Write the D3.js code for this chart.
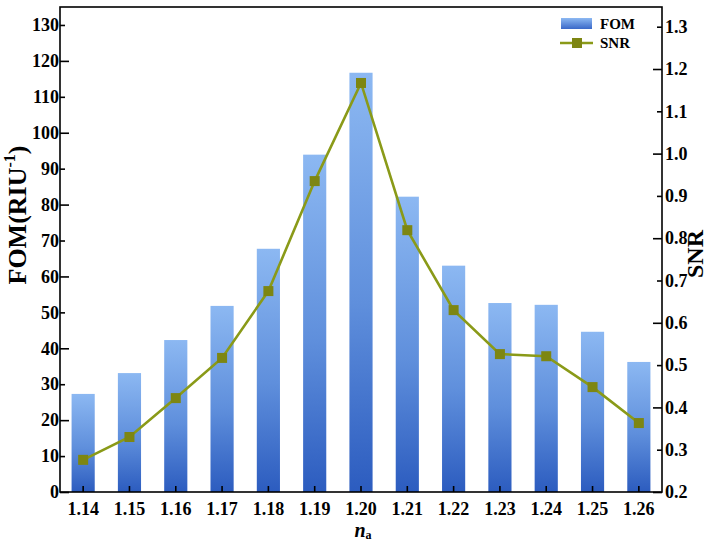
<!DOCTYPE html>
<html>
<head>
<meta charset="utf-8">
<script src="https://cdn.jsdelivr.net/npm/d3@7"></script>
<style>
  html, body { margin: 0; padding: 0; background: #fff; }
  svg { display: block; font-family: "Liberation Serif", "Times New Roman", serif; }
</style>
</head>
<body>
<svg id="chart" width="712" height="542"></svg>
<script>
// Refractive index of the analyte
const categories = ["1.14","1.15","1.16","1.17","1.18","1.19","1.20","1.21","1.22","1.23","1.24","1.25","1.26"];
// Figure of merit (RIU^-1)
const fomValues = [27.3, 33.1, 42.3, 51.8, 67.7, 93.9, 116.7, 82.2, 63.0, 52.6, 52.1, 44.6, 36.2];
// Signal-to-noise ratio
const snrValues = [0.276, 0.330, 0.422, 0.517, 0.675, 0.935, 1.167, 0.819, 0.630, 0.526, 0.521, 0.448, 0.363];
const fomTicks = [0,10,20,30,40,50,60,70,80,90,100,110,120,130];
const snrTicks = [0.2,0.3,0.4,0.5,0.6,0.7,0.8,0.9,1.0,1.1,1.2,1.3];

const svg = d3.select("#chart");
const plotL = 60, plotR = 662, plotT = 7, plotB = 492;

const x = d3.scaleBand().domain(categories).range([plotL, plotR]).paddingInner(0.5).paddingOuter(0.25);
const yL = d3.scaleLinear().domain([0, 135]).range([plotB, plotT]);
const yR = d3.scaleLinear().domain([0.2, 1.3466]).range([plotB, plotT]);

// vertical gradient for the bars
const defs = svg.append("defs");
const grad = defs.append("linearGradient").attr("id", "barGrad")
  .attr("x1", 0).attr("y1", 0).attr("x2", 0).attr("y2", 1);
grad.append("stop").attr("offset", "0%").attr("stop-color", "#8cb8f2");
grad.append("stop").attr("offset", "55%").attr("stop-color", "#5f8fdc");
grad.append("stop").attr("offset", "100%").attr("stop-color", "#2c5cbf");

const legGrad = defs.append("linearGradient").attr("id", "legGrad")
  .attr("x1", 0).attr("y1", 0).attr("x2", 0).attr("y2", 1);
legGrad.append("stop").attr("offset", "0%").attr("stop-color", "#8cb8f2");
legGrad.append("stop").attr("offset", "100%").attr("stop-color", "#3a68c8");

// bars
svg.append("g").selectAll("rect").data(categories).join("rect")
  .attr("x", d => x(d))
  .attr("width", x.bandwidth())
  .attr("y", (d, i) => yL(fomValues[i]))
  .attr("height", (d, i) => plotB - yL(fomValues[i]))
  .attr("fill", "url(#barGrad)");

// SNR line
const cx = d => x(d) + x.bandwidth() / 2;
const line = d3.line().x((d, i) => cx(categories[i])).y(d => yR(d));
svg.append("path").datum(snrValues)
  .attr("d", line)
  .attr("fill", "none")
  .attr("stroke", "#8a9a18")
  .attr("stroke-width", 2.6);
const ms = 10;
svg.append("g").selectAll("rect").data(snrValues).join("rect")
  .attr("x", (d, i) => cx(categories[i]) - ms / 2)
  .attr("y", d => yR(d) - ms / 2)
  .attr("width", ms).attr("height", ms)
  .attr("fill", "#7d8612");

// frame
svg.append("rect").attr("x", plotL).attr("y", plotT)
  .attr("width", plotR - plotL).attr("height", plotB - plotT)
  .attr("fill", "none").attr("stroke", "#000").attr("stroke-width", 1.6);

const tickFont = 18;

// left axis
const gL = svg.append("g").attr("transform", `translate(${plotL},0)`);
gL.call(d3.axisLeft(yL).tickValues(fomTicks).tickSize(0).tickPadding(1).tickFormat(d3.format("d")));
gL.select(".domain").remove();
gL.selectAll("text").attr("font-size", tickFont).attr("font-weight", "bold")
  .attr("font-family", "Liberation Serif, serif").attr("fill", "#000");
gL.selectAll(".tick").append("line")
  .attr("x1", 0).attr("x2", d => d % 20 === 0 ? 9 : 5)
  .attr("stroke", "#000").attr("stroke-width", 1.6);

// right axis
const gR = svg.append("g").attr("transform", `translate(${plotR},0)`);
gR.call(d3.axisRight(yR).tickValues(snrTicks).tickSize(0).tickPadding(3).tickFormat(d3.format(".1f")));
gR.select(".domain").remove();
gR.selectAll("text").attr("font-size", tickFont).attr("font-weight", "bold")
  .attr("font-family", "Liberation Serif, serif").attr("fill", "#000");
gR.selectAll(".tick").append("line")
  .attr("x1", 0).attr("x2", (d, i) => i % 2 === 0 ? -9 : -5)
  .attr("stroke", "#000").attr("stroke-width", 1.6);

// bottom axis
const gB = svg.append("g").attr("transform", `translate(0,${plotB})`);
gB.call(d3.axisBottom(x).tickSize(0).tickPadding(10));
gB.select(".domain").remove();
gB.selectAll("text").attr("font-size", tickFont).attr("font-weight", "bold")
  .attr("font-family", "Liberation Serif, serif").attr("fill", "#000");
gB.selectAll(".tick").append("line")
  .attr("y1", 0).attr("y2", -6)
  .attr("stroke", "#000").attr("stroke-width", 1.6);

// axis titles
const yTitle = svg.append("text")
  .attr("transform", "translate(26,215) rotate(-90)")
  .attr("text-anchor", "middle")
  .attr("font-size", 26).attr("font-weight", "bold");
yTitle.append("tspan").text("FOM(RIU");
yTitle.append("tspan").attr("font-size", 16).attr("dy", -11).text("-1");
yTitle.append("tspan").attr("dy", 11).text(")");

svg.append("text")
  .attr("transform", "translate(703,254) rotate(-90)")
  .attr("text-anchor", "middle")
  .attr("font-size", 24).attr("font-weight", "bold")
  .text("SNR");

const xTitle = svg.append("text")
  .attr("x", 363).attr("y", 537)
  .attr("text-anchor", "middle")
  .attr("font-weight", "bold");
xTitle.append("tspan").attr("font-size", 20).attr("font-style", "italic").text("n");
xTitle.append("tspan").attr("font-size", 12).attr("dy", 2).text("a");

// legend
const lg = svg.append("g");
lg.append("rect").attr("x", 561).attr("y", 18).attr("width", 31).attr("height", 11)
  .attr("fill", "url(#legGrad)");
lg.append("text").attr("x", 600).attr("y", 29)
  .attr("font-size", 15).attr("font-weight", "bold").text("FOM");
lg.append("line").attr("x1", 560).attr("x2", 593).attr("y1", 43).attr("y2", 43)
  .attr("stroke", "#8a9a18").attr("stroke-width", 2.6);
lg.append("rect").attr("x", 572).attr("y", 38).attr("width", 10).attr("height", 10)
  .attr("fill", "#7d8612");
lg.append("text").attr("x", 600).attr("y", 48)
  .attr("font-size", 15).attr("font-weight", "bold").text("SNR");
</script>
</body>
</html>
